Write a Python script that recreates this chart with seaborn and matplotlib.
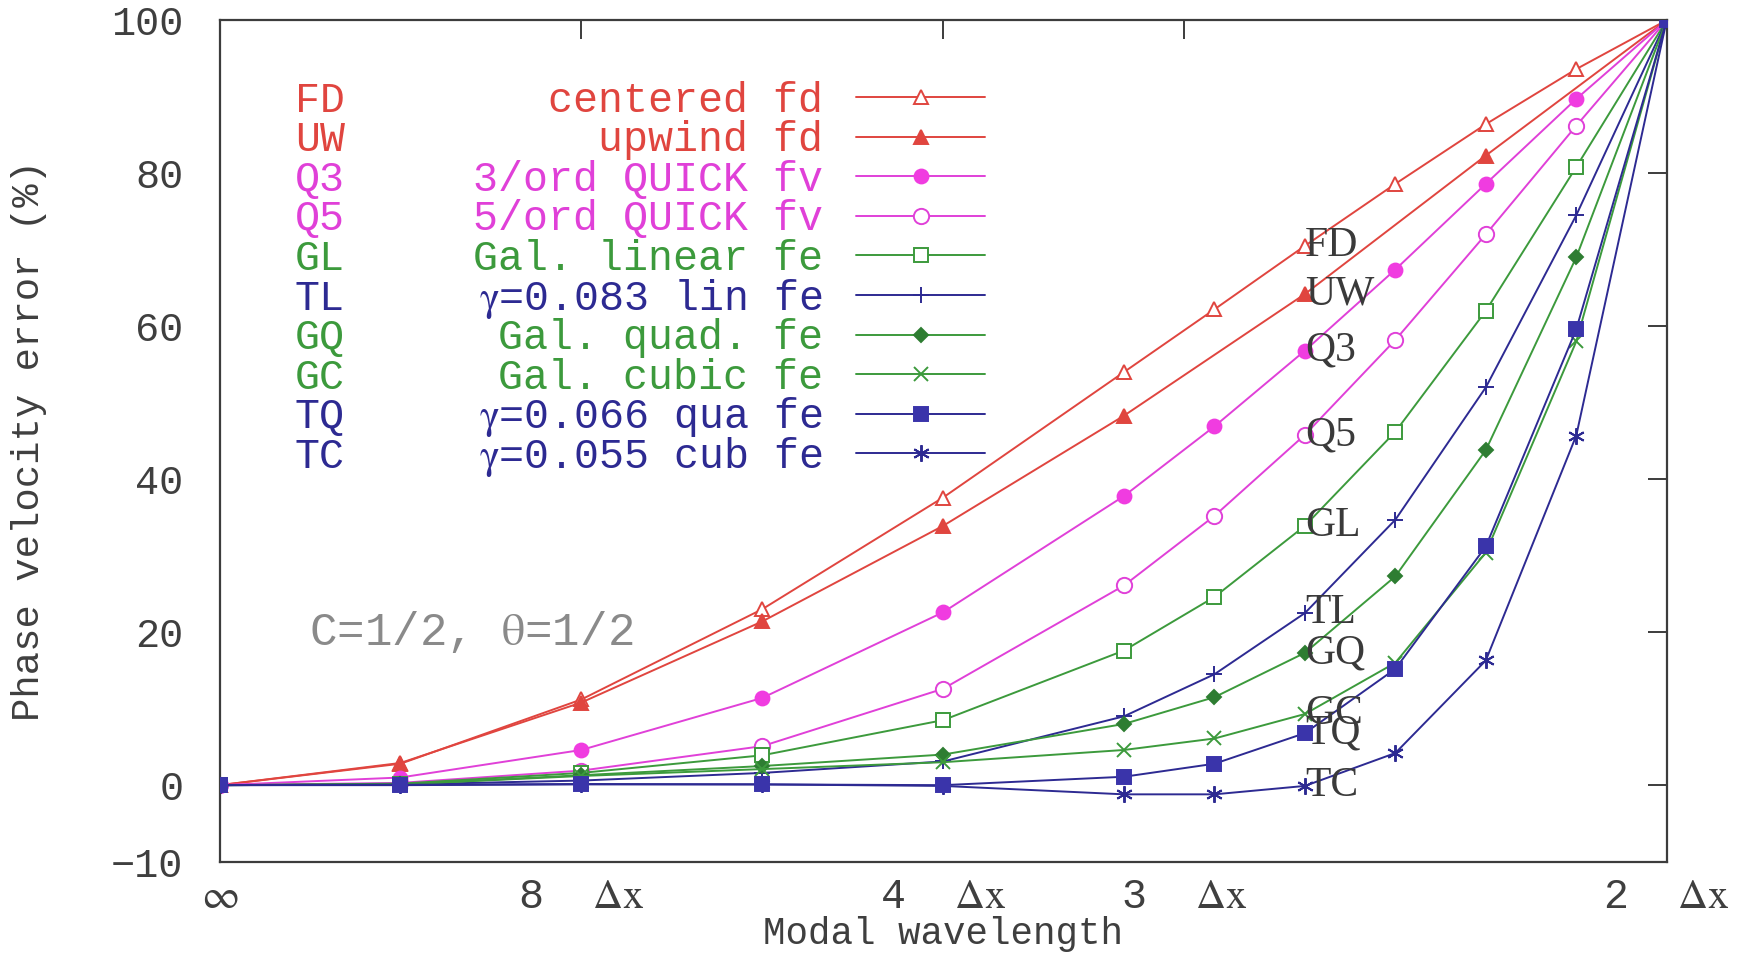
import numpy as np
import pandas as pd
import matplotlib
matplotlib.use("Agg")
import matplotlib.pyplot as plt
import seaborn as sns
from matplotlib.lines import Line2D

# ---------------- data ----------------
x_fine = [0.0, 0.125, 0.25, 0.375, 0.5, 0.625, 0.6875, 0.75, 0.8125, 0.875, 0.9375, 1.0]
x_uw = [0.0, 0.125, 0.25, 0.375, 0.5, 0.625, 0.75, 0.875, 1.0]

fd = [0.0, 2.8, 11.2, 23.0, 37.6, 54.0, 62.2, 70.5, 78.6, 86.4, 93.6, 100.0]
uw = [0.0, 2.9, 10.8, 21.4, 33.9, 48.3, 64.2, 82.3, 100.0]
q3 = [0.0, 1.0, 4.6, 11.4, 22.6, 37.8, 46.9, 56.8, 67.4, 78.6, 89.7, 100.0]
q5 = [0.0, 0.3, 1.9, 5.1, 12.6, 26.1, 35.2, 45.8, 58.2, 72.0, 86.2, 100.0]
gl = [0.0, 0.2, 1.6, 3.9, 8.5, 17.6, 24.6, 33.9, 46.2, 62.0, 80.8, 100.0]
tl = [0.0, 0.1, 0.6, 1.6, 3.1, 9.0, 14.5, 22.5, 34.7, 52.0, 74.5, 100.0]
gq = [0.0, 0.1, 1.3, 2.5, 4.0, 8.0, 11.5, 17.3, 27.3, 43.8, 69.0, 100.0]
gc = [0.0, 0.1, 1.2, 2.1, 3.0, 4.6, 6.1, 9.3, 16.0, 30.4, 58.0, 100.0]
tq = [0.0, 0.05, 0.15, 0.1, 0.0, 1.1, 2.8, 6.8, 15.2, 31.2, 59.6, 100.0]
tc = [0.0, 0.0, 0.1, 0.1, -0.1, -1.2, -1.2, -0.1, 4.2, 16.3, 45.7, 100.0]

codes = ["FD", "UW", "Q3", "Q5", "GL", "TL", "GQ", "GC", "TQ", "TC"]
descs = ["centered fd", "upwind fd", "3/ord QUICK fv", "5/ord QUICK fv",
         "Gal. linear fe", r"$\mathrm{\gamma}$=0.083 lin fe", "Gal. quad. fe",
         "Gal. cubic fe", r"$\mathrm{\gamma}$=0.066 qua fe", r"$\mathrm{\gamma}$=0.055 cub fe"]

x_ticks = [0.0, 0.25, 0.5, 2.0 / 3.0, 1.0]
x_ticklabels = [r"$\infty$", r"8  $\Delta\mathrm{x}$", r"4  $\Delta\mathrm{x}$",
                r"3  $\Delta\mathrm{x}$", r"2  $\Delta\mathrm{x}$"]
y_ticks = [-10, 0, 20, 40, 60, 80, 100]

# ---------------- style ----------------
RED = "#e0453f"
MAG = "#e040d8"
GRN = "#3c9a3c"
DGRN = "#2e7d32"
NAVY = "#2d2a92"
BLUE = "#3a34aa"

styles = [
    # x, y, color, marker, facecolor, size, zorder
    (x_fine, fd, RED, "^", "white", 10, 2),
    (x_uw, uw, RED, "^", RED, 10, 2),
    (x_fine, q3, MAG, "o", "#f03ce0", 10, 2),
    (x_fine, q5, MAG, "o", "white", 11, 2),
    (x_fine, gl, GRN, "s", "white", 10, 2),
    (x_fine, tl, NAVY, "+", NAVY, 12, 2),
    (x_fine, gq, GRN, "D", DGRN, 7, 2),
    (x_fine, gc, GRN, "x", GRN, 10, 2),
    (x_fine, tq, NAVY, "s", BLUE, 10, 3),
    (x_fine, tc, NAVY, (6, 2, 0), NAVY, 12, 2),
]
code_colors = [RED, RED, MAG, MAG, GRN, NAVY, GRN, GRN, NAVY, NAVY]

sns.set_theme(style="white")
MONO = ["Liberation Mono", "DejaVu Sans Mono", "DejaVu Sans"]
plt.rcParams["font.family"] = MONO
plt.rcParams["mathtext.fontset"] = "stix"
AX_COL = "#3c3c3c"

fig, ax = plt.subplots(figsize=(17.48, 9.59), dpi=100)
fig.subplots_adjust(left=0.1256, right=0.9535, top=0.979, bottom=0.1015)

handles = []
for (xs, ys, col, mk, mfc, ms, z), code in zip(styles, codes):
    df = pd.DataFrame({"x": xs, "y": ys})
    sns.lineplot(data=df, x="x", y="y", ax=ax, color=col, marker=mk,
                 markersize=ms, markerfacecolor=mfc,
                 markeredgecolor=mfc if mfc != "white" else col,
                 markeredgewidth=1.4, linewidth=1.4, legend=False, zorder=z)
    ln = ax.lines[-1]
    if mk in ("+", "x") or isinstance(mk, tuple):
        ln.set_markeredgecolor(col)
    handles.append(ln)
    # curve label at the 3/4 position (x = 0.75)
    idx = list(xs).index(0.75)
    ax.text(xs[idx], ys[idx], code, ha="left", va="center", fontsize=30,
            family=["Liberation Serif", "DejaVu Serif"], color="#3a3a3a", zorder=5)

ax.text(0.062, 20, r"C=1/2, $\mathrm{\theta}$=1/2", ha="left", va="center", fontsize=33,
        color="#8a8a8a", family=MONO)

ax.set_xlim(0, 1)
ax.set_ylim(-10, 100)
ax.set_xticks(x_ticks)
ax.set_xticklabels(x_ticklabels)
ax.set_yticks(y_ticks)
ax.tick_params(axis="both", direction="in", length=14, width=1.4, color=AX_COL,
               top=True, right=True, labelsize=29, labelcolor="#3f3f3f")
ax.tick_params(axis="x", pad=11, labelsize=30)
ax.tick_params(axis="y", pad=26)
for s in ax.spines.values():
    s.set_visible(True)
    s.set_color(AX_COL)
    s.set_linewidth(1.6)

ax.set_ylabel("Phase velocity error (%)", fontsize=28, color="#3f3f3f")
ax.yaxis.set_label_coords(-0.119, 0.5)
ax.set_xlabel("Modal wavelength", fontsize=27, color="#3f3f3f")
ax.xaxis.set_label_coords(0.5, -0.0645)

# ---------------- legend ----------------
leg_kw = dict(frameon=False, prop={"family": MONO, "size": 30}, labelspacing=-0.01,
              borderpad=0, borderaxespad=0)
# sample lines (right block); labels kept invisible, only used for row layout
legB = ax.legend(handles, codes, loc="upper right", bbox_to_anchor=(0.529, 0.928),
                 markerfirst=False, handlelength=3.1, handletextpad=0.4, **leg_kw)
for t in legB.get_texts():
    t.set_alpha(0)
ax.add_artist(legB)

# codes (left block)
dummy = [Line2D([], [], linestyle="none") for _ in codes]
legA = ax.legend(dummy, codes, loc="upper left", bbox_to_anchor=(0.052, 0.928),
                 handlelength=0, handletextpad=0, **leg_kw)
for t, c in zip(legA.get_texts(), code_colors):
    t.set_color(c)

# descriptions, right-aligned, on the same baselines as the code rows
fig.canvas.draw()
inv = ax.transAxes.inverted()
for t, desc, c in zip(legA.get_texts(), descs, code_colors):
    xd, yd = t.get_transform().transform(t.get_position())
    ya = inv.transform((xd, yd))[1]
    ax.text(0.417, ya, desc, ha="right", va="baseline", transform=ax.transAxes,
            fontsize=30, color=c, family=MONO)

fig.savefig("out.png", dpi=100, facecolor="white")
